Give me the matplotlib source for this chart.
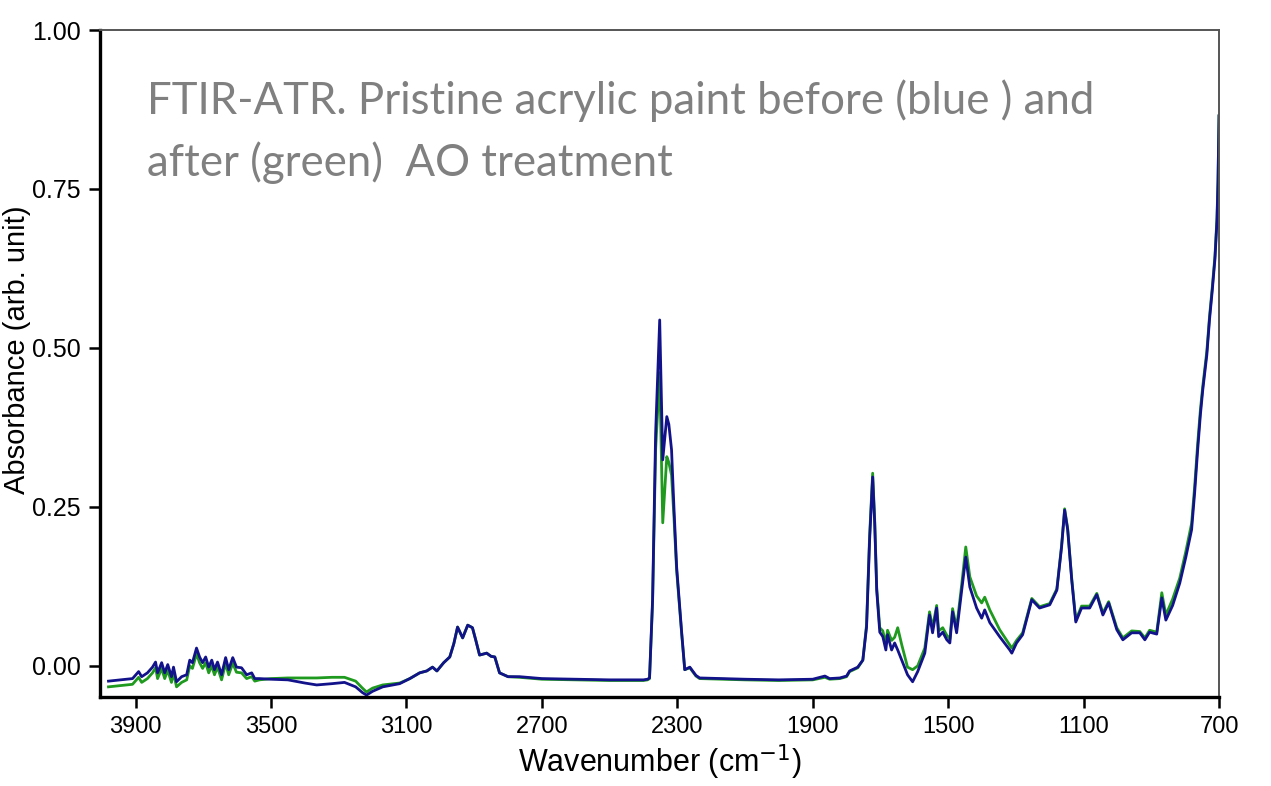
"""FTIR-ATR spectrum of pristine acrylic paint, before/after AO treatment.
Writes out.png
"""
import matplotlib
matplotlib.use("Agg")
import matplotlib.pyplot as plt

# wavenumber grid (cm^-1), shared by both spectra
WAVENUMBER = [
    3980, 3909, 3891, 3882, 3865, 3850, 3841, 3835, 3823, 3814, 3805, 3794,
    3788, 3779, 3764, 3749, 3740, 3732, 3720, 3711, 3702, 3693, 3684, 3675,
    3667, 3658, 3646, 3634, 3625, 3613, 3602, 3587, 3572, 3557, 3548, 3534,
    3500, 3450, 3400, 3365, 3320, 3283, 3250, 3230, 3218, 3200, 3170, 3120,
    3090, 3061, 3040, 3023, 3010, 2990, 2972, 2960, 2949, 2934, 2919, 2905,
    2895, 2884, 2863, 2850, 2839, 2825, 2800, 2766, 2700, 2600, 2500, 2400,
    2388, 2382, 2373, 2364, 2352, 2343, 2331, 2325, 2317, 2310, 2302, 2287,
    2278, 2263, 2245, 2234, 2100, 2000, 1900, 1864, 1850, 1820, 1800, 1791,
    1767, 1752, 1741, 1732, 1723, 1717, 1711, 1702, 1693, 1684, 1679, 1667,
    1658, 1649, 1637, 1620, 1605, 1590, 1569, 1555, 1546, 1534, 1528, 1516,
    1504, 1495, 1487, 1475, 1460, 1448, 1436, 1416, 1401, 1392, 1377, 1348,
    1318, 1312, 1298, 1280, 1253, 1230, 1200, 1179, 1165, 1156, 1147, 1135,
    1123, 1106, 1082, 1061, 1043, 1026, 1002, 984, 958, 934, 919, 905,
    884, 869, 857, 837, 816, 798, 781, 772, 763, 755, 748, 742,
    736, 728, 720, 712, 706, 703, 700,
]

# before AO treatment (blue)
BEFORE = [
    -0.024, -0.020, -0.009, -0.017, -0.011, -0.002, 0.006, -0.011, 0.005, -0.011, 0.002, -0.017,
    -0.002, -0.025, -0.017, -0.014, 0.009, 0.005, 0.028, 0.014, 0.005, 0.014, -0.002, 0.009,
    -0.006, 0.006, -0.014, 0.013, -0.006, 0.013, -0.002, -0.003, -0.014, -0.011, -0.020, -0.020,
    -0.021, -0.022, -0.027, -0.030, -0.028, -0.026, -0.033, -0.042, -0.046, -0.040, -0.033, -0.028,
    -0.020, -0.011, -0.008, -0.002, -0.008, 0.005, 0.014, 0.035, 0.061, 0.044, 0.064, 0.060,
    0.040, 0.017, 0.020, 0.015, 0.014, -0.011, -0.017, -0.017, -0.020, -0.021, -0.022, -0.022,
    -0.021, -0.019, 0.104, 0.366, 0.544, 0.324, 0.392, 0.380, 0.340, 0.250, 0.156, 0.052,
    -0.006, -0.002, -0.015, -0.019, -0.021, -0.022, -0.021, -0.016, -0.020, -0.019, -0.016, -0.008,
    -0.002, 0.009, 0.061, 0.198, 0.297, 0.225, 0.119, 0.053, 0.046, 0.025, 0.049, 0.025,
    0.036, 0.025, 0.009, -0.014, -0.025, -0.009, 0.020, 0.080, 0.052, 0.091, 0.046, 0.053,
    0.041, 0.036, 0.085, 0.052, 0.119, 0.171, 0.124, 0.091, 0.075, 0.088, 0.068, 0.046,
    0.025, 0.020, 0.036, 0.049, 0.104, 0.091, 0.096, 0.119, 0.187, 0.245, 0.214, 0.135,
    0.069, 0.091, 0.091, 0.112, 0.080, 0.099, 0.057, 0.041, 0.052, 0.052, 0.041, 0.053,
    0.050, 0.107, 0.072, 0.095, 0.130, 0.171, 0.214, 0.272, 0.340, 0.395, 0.434, 0.462,
    0.489, 0.545, 0.590, 0.640, 0.700, 0.760, 0.865,
]

# after AO treatment (green)
AFTER = [
    -0.033, -0.029, -0.018, -0.026, -0.020, -0.011, -0.003, -0.020, -0.004, -0.020, -0.007, -0.026,
    -0.011, -0.033, -0.026, -0.022, 0.000, -0.004, 0.019, 0.005, -0.004, 0.005, -0.011, 0.000,
    -0.014, -0.002, -0.022, 0.004, -0.014, 0.004, -0.010, -0.011, -0.020, -0.017, -0.024, -0.022,
    -0.020, -0.019, -0.019, -0.019, -0.018, -0.018, -0.024, -0.035, -0.041, -0.035, -0.030, -0.027,
    -0.020, -0.011, -0.008, -0.002, -0.008, 0.005, 0.014, 0.035, 0.061, 0.044, 0.064, 0.060,
    0.040, 0.017, 0.020, 0.015, 0.014, -0.011, -0.017, -0.018, -0.021, -0.022, -0.023, -0.023,
    -0.022, -0.020, 0.100, 0.340, 0.461, 0.225, 0.329, 0.320, 0.300, 0.235, 0.150, 0.050,
    -0.006, -0.003, -0.016, -0.020, -0.022, -0.023, -0.022, -0.018, -0.021, -0.020, -0.017, -0.009,
    -0.003, 0.009, 0.065, 0.205, 0.303, 0.230, 0.122, 0.060, 0.055, 0.035, 0.056, 0.040,
    0.045, 0.060, 0.033, -0.002, -0.006, 0.000, 0.028, 0.085, 0.060, 0.095, 0.055, 0.060,
    0.048, 0.042, 0.090, 0.060, 0.128, 0.187, 0.140, 0.110, 0.099, 0.108, 0.088, 0.057,
    0.033, 0.028, 0.040, 0.052, 0.106, 0.093, 0.098, 0.121, 0.189, 0.247, 0.216, 0.137,
    0.072, 0.094, 0.094, 0.114, 0.083, 0.101, 0.060, 0.044, 0.055, 0.054, 0.044, 0.056,
    0.053, 0.115, 0.080, 0.105, 0.138, 0.180, 0.224, 0.282, 0.350, 0.403, 0.440, 0.468,
    0.495, 0.550, 0.595, 0.645, 0.705, 0.765, 0.865,
]

YTICKS = [0.00, 0.25, 0.50, 0.75, 1.00]
XTICKS = [3900, 3500, 3100, 2700, 2300, 1900, 1500, 1100, 700]
NOTE = "FTIR-ATR. Pristine acrylic paint before (blue ) and\nafter (green)  AO treatment"

SANS = ["Liberation Sans", "DejaVu Sans"]

fig = plt.figure(figsize=(12.71, 7.86), dpi=100)
ax = fig.add_axes([0.0787, 0.1132, 0.8804, 0.8486])

ax.plot(WAVENUMBER, AFTER, color="#1f9a1f", lw=2.0)
ax.plot(WAVENUMBER, BEFORE, color="#12128a", lw=2.0)

ax.set_xlim(4005, 700)
ax.set_ylim(-0.049, 1.0)
ax.set_xticks(XTICKS)
ax.set_xticklabels([str(t) for t in XTICKS], family=SANS, fontsize=17)
ax.set_yticks(YTICKS)
ax.set_yticklabels([f"{t:.2f}" for t in YTICKS], family=SANS, fontsize=18)
ax.tick_params(axis="both", direction="out", length=8, width=1.8, color="black")
ax.tick_params(axis="x", pad=6)
ax.tick_params(axis="y", pad=6)

for side in ("left", "bottom"):
    ax.spines[side].set_linewidth(2.4)
    ax.spines[side].set_color("black")
for side in ("top", "right"):
    ax.spines[side].set_linewidth(1.4)
    ax.spines[side].set_color("#555555")

ax.set_xlabel("Wavenumber (cm$^{-1}$)", family=SANS, fontsize=22)
ax.xaxis.set_label_coords(0.5, -0.068)
ax.set_ylabel("Absorbance (arb. unit)", family=SANS, fontsize=21)
ax.yaxis.set_label_coords(-0.062, 0.52)

ax.text(0.042, 0.926, NOTE, transform=ax.transAxes, ha="left", va="top",
        family=["Lato", "DejaVu Sans"], fontsize=31.5, color="#808080", linespacing=1.55)

fig.savefig("out.png", dpi=100)
